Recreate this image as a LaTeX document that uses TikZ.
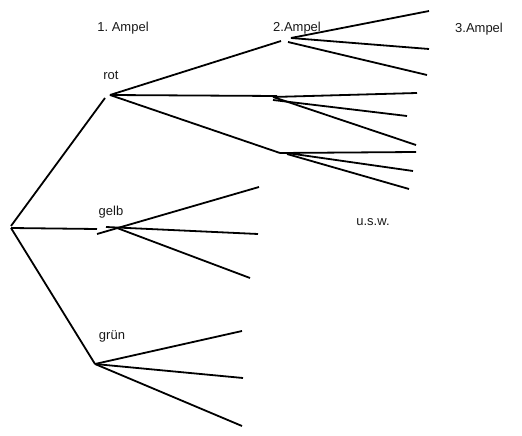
\documentclass[tikz,border=0pt]{standalone}
\usepackage{fontspec}
\setmainfont{Liberation Sans}
\usepackage{tikz}
\usetikzlibrary{positioning}
\frenchspacing
\tikzset{
  line cap=round,
  line join=round,
  every picture/.style={line width=1.8bp},
  ast/.style={draw, line width=1.8bp},
  lbl/.style={inner sep=0pt, font=\fontsize{13bp}{15bp}\selectfont, text=black!90}
}

\begin{document}
\begin{tikzpicture}[x=1bp, y=-1bp]
  \useasboundingbox (0,0) rectangle (522,436);

  % Ebenen
  \node[lbl] (ampA) at (123,28) {1.\ Ampel};
  \node[lbl] (ampB) at (297,28) {2.Ampel};
  \node[lbl] (ampC) at (479,29) {3.Ampel};

  % Farben der 1. Ampel
  \node[lbl] (rot)  at (111,75)  {rot};
  \node[lbl] (gelb) at (111,212) {gelb};
  \node[lbl] (gruen) at (112,336) {grün};
  \node[lbl] (usw)  at (373,222) {u.s.w.};

  % Wurzel und Verzweigungen
  \coordinate (w) at (11,228);
  \coordinate (r) at (110,95);
  \coordinate (g) at (97,229);
  \coordinate (n) at (95,364);

  \draw[ast] (11,226) -- (105,98);
  \draw[ast] (w) -- (g);
  \draw[ast] (w) -- (n);

  % rot
  \coordinate (ra) at (281,41);
  \coordinate (rb) at (277,96);
  \coordinate (rc) at (280,153);
  \draw[ast] (r) -- (ra);
  \draw[ast] (r) -- (rb);
  \draw[ast] (r) -- (rc);

  % rot -> 2. Ampel
  \draw[ast] (291,38) -- (429,11);
  \draw[ast] (291,38) -- (429,49);
  \draw[ast] (288,42) -- (427,75);

  \draw[ast] (273,97) -- (417,93);
  \draw[ast] (273,100) -- (407,116);
  \draw[ast] (273,97) -- (416,145);

  \draw[ast] (rc) -- (416,152);
  \draw[ast] (287,153) -- (413,171);
  \draw[ast] (287,154) -- (409,189);

  % gelb
  \draw[ast] (97,234) -- (259,187);
  \draw[ast] (106,227) -- (258,234);
  \draw[ast] (117,228) -- (250,278);

  % gruen
  \draw[ast] (n) -- (242,331);
  \draw[ast] (n) -- (243,378);
  \draw[ast] (n) -- (242,426);
\end{tikzpicture}
\end{document}
